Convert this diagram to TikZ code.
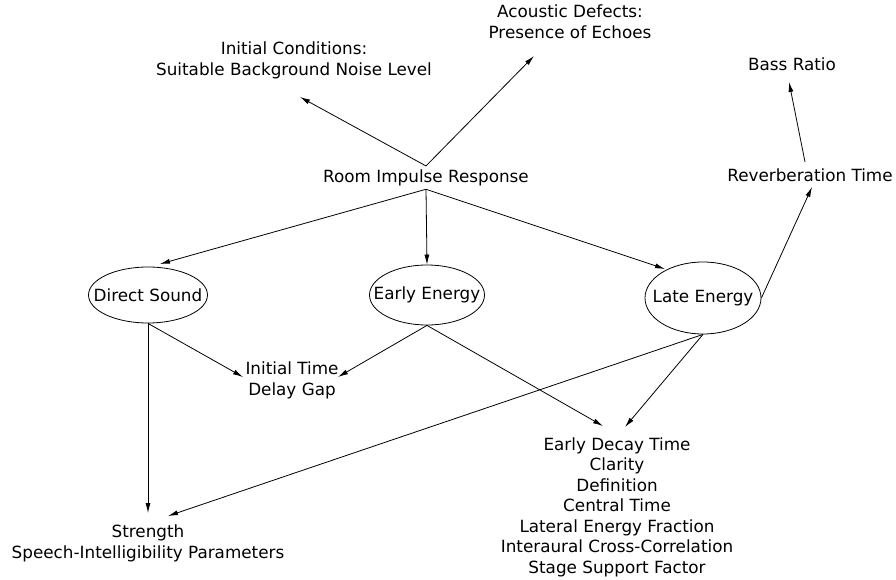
\documentclass[tikz,border=0pt]{standalone}
\usepackage{fontspec}
\setmainfont{DejaVu Sans}
\usepackage{tikz}
\usetikzlibrary{shapes.geometric,arrows.meta}

\begin{document}
\begin{tikzpicture}[x=1pt,y=-1pt]
\tikzstyle{txt}=[align=center,font=\fontsize{16.8}{21}\selectfont]
\tikzstyle{oval}=[ellipse,draw,line width=0.8pt,inner sep=0pt,label={[txt]center:#1}]
\tikzstyle{arr}=[line width=0.8pt,-{Latex[length=10pt,width=5pt]}]
\path[use as bounding box] (0,0) rectangle (896,580);
% text nodes
\node[txt] (ic) at (294,60) {Initial Conditions:\\Suitable Background Noise Level};
\node[txt] (ad) at (570,22) {Acoustic Defects:\\Presence of Echoes};
\node[txt] (br) at (792,64.6) {Bass Ratio};
\node[txt] (rir) at (426,177.6) {Room Impulse Response};
\node[txt] (rt) at (810,175.6) {Reverberation Time};
\node[txt] (itdg) at (292,380) {Initial Time\\Delay Gap};
\node[txt] (st) at (148,543) {Strength\\Speech-Intelligibility Parameters};
\node[txt,font=\fontsize{16.8}{20.5}\selectfont] (edt) at (617,507) {Early Decay Time\\Clarity\\Definition\\Central Time\\Lateral Energy Fraction\\Interaural Cross-Correlation\\Stage Support Factor};
% energy parts
\node[oval=Direct Sound,minimum width=119pt,minimum height=56pt] (ds) at (148,295) {};
\node[oval=Early Energy,minimum width=115pt,minimum height=60pt] (ee) at (427,295) {};
\node[oval=Late Energy,minimum width=116pt,minimum height=72pt] (le) at (703,298) {};
% arrow ends
\foreach \name/\point in {
	ic-in/{300,97},
	ad-in/{534,56},
	br-in/{789,82},
	rt-up/{805,162},
	rt-in/{812,187},
	ds-in/{160,264},
	le-in/{665,269},
	itdg-l/{243,377},
	itdg-r/{338,377},
	edt-l/{603,426},
	edt-r/{625,427},
	st-in/{148,513},
	st-r/{168,516}}
	\coordinate (\name) at (\point);
\draw[arr] (rir.north) -- (ic-in);
\draw[arr] (rir.north) -- (ad-in);
\draw[arr] (rir.south) -- (ds-in);
\draw[arr] (rir.south) -- (ee.north);
\draw[arr] (rir.south) -- (le-in);
\draw[arr] (le.east) -- (rt-in);
\draw[arr] (rt-up) -- (br-in);
\draw[arr] (ds.south) -- (st-in);
\draw[arr] (ds.south) -- (itdg-l);
\draw[arr] (ee.south) -- (itdg-r);
\draw[arr] (ee.south) -- (edt-l);
\draw[arr] (le.south) -- (edt-r);
\draw[arr] (le.south) -- (st-r);
\end{tikzpicture}
\end{document}
